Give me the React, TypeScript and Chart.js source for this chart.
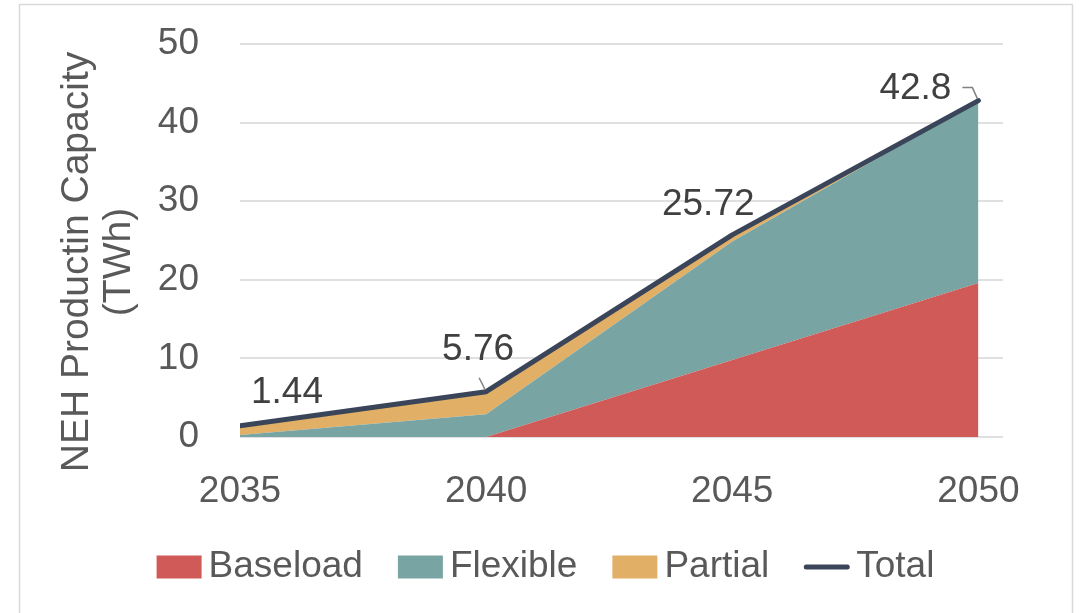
import React, { useEffect, useRef } from 'react';
import { Chart, registerables } from 'chart.js';

Chart.register(...registerables);

// Production capacity by category (TWh)
const YEARS = [2035, 2040, 2045, 2050];
const BASELOAD = [0, 0, 9.8, 19.6];
const FLEXIBLE = [0.24, 2.88, 15.06, 23.2];
const PARTIAL = [1.2, 2.88, 0.86, 0];
const TOTAL = [1.44, 5.76, 25.72, 42.8];

const SERIES_NAMES = ['Baseload', 'Flexible', 'Partial', 'Total'];
const Y_MIN = 0;
const Y_MAX = 50;
const Y_STEP = 10;
const AXIS_TITLE = ['NEH Productin Capacity', '(TWh)'];

const COLORS = {
  baseload: '#D05A57',
  flexible: '#78A5A3',
  partial: '#E1B066',
  total: '#3B4559',
  text: '#595959',
  label: '#404040',
  grid: '#E0E0E0',
  frame: '#D9D9D9',
};

const FONT = '"Liberation Sans", Arial, sans-serif';

// Offsets of each total label's centre from its point, plus optional leader path
const LABEL_NUDGE: { dx: number; dy: number; leader?: [number, number][] }[] = [
  { dx: 47, dy: -33 },
  { dx: -8, dy: -42, leader: [[-7, -14], [-1, -2]] },
  { dx: -24, dy: -30 },
  { dx: -63, dy: -12, leader: [[-16, -13], [-6, -13], [-1, -2]] },
];

const decorPlugin = {
  id: 'decor',
  beforeDraw(chart: any) {
    const { ctx, width, height } = chart;
    ctx.save();
    ctx.fillStyle = '#ffffff';
    ctx.fillRect(0, 0, width, height);
    ctx.strokeStyle = COLORS.frame;
    ctx.lineWidth = 1.5;
    ctx.strokeRect(19.5, 4.5, 1053, height + 20);
    ctx.restore();
  },
  afterDraw(chart: any) {
    const { ctx } = chart;
    const xs = chart.scales.x;
    const ys = chart.scales.y;
    ctx.save();

    // Vertical axis title, two lines
    ctx.fillStyle = COLORS.text;
    ctx.font = `39px ${FONT}`;
    ctx.textAlign = 'center';
    ctx.textBaseline = 'middle';
    AXIS_TITLE.forEach((line, i) => {
      ctx.save();
      ctx.translate(77 + i * 42, 262);
      ctx.rotate(-Math.PI / 2);
      ctx.fillText(line, 0, 0);
      ctx.restore();
    });

    // Total value labels with leader lines
    ctx.font = `37px ${FONT}`;
    ctx.fillStyle = COLORS.label;
    TOTAL.forEach((v, i) => {
      const px = xs.getPixelForValue(YEARS[i]);
      const py = ys.getPixelForValue(v);
      const n = LABEL_NUDGE[i];
      ctx.fillText(String(v), px + n.dx, py + n.dy);
      if (n.leader) {
        ctx.beginPath();
        ctx.strokeStyle = '#808080';
        ctx.lineWidth = 1.5;
        n.leader.forEach(([lx, ly], k) => {
          if (k === 0) ctx.moveTo(px + lx, py + ly);
          else ctx.lineTo(px + lx, py + ly);
        });
        ctx.stroke();
      }
    });

    // Legend
    const legendY = 567;
    const boxW = 45;
    const boxH = 23;
    const gap = 7;
    const spacing = 35;
    ctx.font = `37px ${FONT}`;
    const items = chart.data.datasets.map((ds: any) => ({
      label: ds.label,
      color: ds.label === 'Total' ? ds.borderColor : ds.backgroundColor,
      isLine: ds.label === 'Total',
      w: boxW + gap + ctx.measureText(ds.label).width,
    }));
    const totalW = items.reduce((s: number, it: any) => s + it.w, 0) + spacing * (items.length - 1);
    let x = (19 + 1072) / 2 - totalW / 2;
    ctx.textAlign = 'left';
    items.forEach((it: any) => {
      if (it.isLine) {
        ctx.beginPath();
        ctx.strokeStyle = it.color;
        ctx.lineWidth = 5;
        ctx.lineCap = 'round';
        ctx.moveTo(x + 2, legendY);
        ctx.lineTo(x + boxW - 2, legendY);
        ctx.stroke();
      } else {
        ctx.fillStyle = it.color;
        ctx.fillRect(x, legendY - boxH / 2, boxW, boxH);
      }
      ctx.fillStyle = COLORS.text;
      ctx.fillText(it.label, x + boxW + gap, legendY);
      x += it.w + spacing;
    });

    ctx.restore();
  },
};

export default function App() {
  const canvasRef = useRef<HTMLCanvasElement | null>(null);

  useEffect(() => {
    if (!canvasRef.current) return;
    const pts = (arr: number[]) => arr.map((y, i) => ({ x: YEARS[i], y }));
    const area = (label: string, data: number[], color: string, fill: any) => ({
      label,
      data: pts(data),
      backgroundColor: color,
      borderColor: color,
      borderWidth: 0,
      pointRadius: 0,
      fill,
      stack: 'parts',
      order: 1,
    });

    const chart = new Chart(canvasRef.current, {
      type: 'line',
      data: {
        datasets: [
          area(SERIES_NAMES[0], BASELOAD, COLORS.baseload, 'origin'),
          area(SERIES_NAMES[1], FLEXIBLE, COLORS.flexible, '-1'),
          area(SERIES_NAMES[2], PARTIAL, COLORS.partial, '-1'),
          {
            label: SERIES_NAMES[3],
            data: pts(TOTAL),
            borderColor: COLORS.total,
            backgroundColor: COLORS.total,
            borderWidth: 5,
            borderJoinStyle: 'round',
            borderCapStyle: 'round',
            pointRadius: 0,
            fill: false,
            stack: 'total',
            order: 0,
          } as any,
        ],
      },
      options: {
        animation: false,
        responsive: false,
        devicePixelRatio: 1,
        layout: { padding: { left: 0, top: 44, right: 78, bottom: 0 }, autoPadding: false } as any,
        plugins: {
          legend: { display: false },
          tooltip: { enabled: false },
        },
        scales: {
          x: {
            type: 'linear',
            min: YEARS[0],
            max: YEARS[YEARS.length - 1] + 0.5,
            grid: { display: false, drawTicks: false },
            border: { display: false },
            afterBuildTicks: (axis: any) => {
              axis.ticks = YEARS.map((v) => ({ value: v }));
            },
            afterFit: (axis: any) => {
              axis.height = 613 - 437;
              axis.paddingLeft = 0;
              axis.paddingRight = 0;
            },
            ticks: {
              padding: 33,
              maxRotation: 0,
              autoSkip: false,
              color: COLORS.text,
              font: { family: FONT, size: 37 },
              callback: (v: any) => String(v),
            },
          },
          y: {
            type: 'linear',
            stacked: true,
            min: Y_MIN,
            max: Y_MAX,
            grid: { color: COLORS.grid, lineWidth: 2, drawTicks: false },
            border: { display: false },
            afterFit: (axis: any) => {
              axis.width = 240;
              axis.paddingTop = 0;
              axis.paddingBottom = 0;
            },
            ticks: {
              stepSize: Y_STEP,
              padding: 41,
              color: COLORS.text,
              font: { family: FONT, size: 37 },
            },
          },
        },
      },
      plugins: [decorPlugin],
    } as any);

    return () => chart.destroy();
  }, []);

  return (
    <div style={{ position: 'fixed', left: 0, top: 0, width: 1081, height: 613 }}>
      <canvas ref={canvasRef} width={1081} height={613} style={{ width: 1081, height: 613 }} />
    </div>
  );
}
